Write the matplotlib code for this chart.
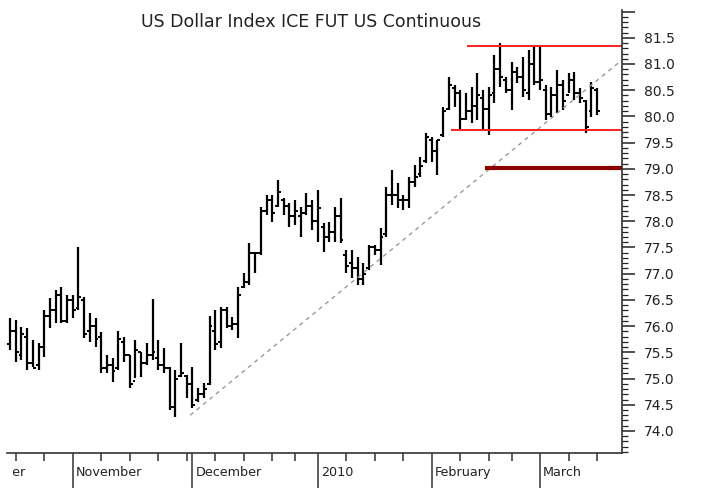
import numpy as np
import matplotlib
matplotlib.use("Agg")
import matplotlib.pyplot as plt
from matplotlib.transforms import Bbox, TransformedBbox, blended_transform_factory

# ---------------- data ----------------
high = [76.16, 76.12, 75.98, 75.97, 75.74, 75.68, 76.31, 76.54, 76.69, 76.75,
        76.60, 76.60, 77.51, 76.56, 76.25, 76.16, 75.89, 75.45, 75.39, 75.91,
        75.79, 75.45, 75.74, 75.51, 75.68, 76.52, 75.74, 75.58, 75.22, 75.16,
        75.68, 75.07, 75.22, 74.82, 74.92, 76.20, 76.31, 76.37, 76.37, 76.18,
        76.75, 77.02, 77.59, 77.42, 78.27, 78.50, 78.50, 78.79, 78.45, 78.35,
        78.41, 78.27, 78.54, 78.41, 78.60, 77.97, 77.99, 78.27, 78.45, 77.45,
        77.45, 77.32, 77.21, 77.55, 77.55, 77.87, 78.66, 78.98, 78.73, 78.50,
        78.85, 79.08, 79.23, 79.69, 79.60, 79.55, 80.18, 80.76, 80.60, 80.51,
        80.45, 80.56, 80.83, 80.51, 80.56, 81.18, 81.40, 80.76, 81.04, 80.95,
        81.14, 81.27, 81.33, 81.33, 80.60, 80.56, 80.89, 80.70, 80.83, 80.85,
        80.55, 80.32, 80.66, 80.55]
low = [75.55, 75.32, 75.36, 75.16, 75.22, 75.16, 75.41, 75.97, 76.06, 76.06,
       76.06, 76.16, 76.31, 75.77, 75.70, 75.60, 75.10, 75.10, 74.94, 75.16,
       75.32, 74.82, 75.01, 75.03, 75.26, 75.35, 75.16, 75.10, 74.40, 74.27,
       75.03, 74.63, 74.44, 74.55, 74.63, 74.88, 75.55, 75.58, 75.97, 75.93,
       75.77, 76.73, 76.79, 77.02, 77.36, 78.12, 77.99, 78.27, 78.12, 77.89,
       77.93, 77.70, 78.12, 77.84, 77.61, 77.42, 77.61, 77.61, 77.59, 77.02,
       76.92, 76.79, 76.79, 77.07, 77.36, 77.17, 77.70, 78.31, 78.26, 78.22,
       78.26, 78.66, 78.85, 79.11, 79.13, 78.89, 79.61, 80.13, 80.18, 79.74,
       79.94, 79.88, 79.94, 79.74, 79.65, 80.26, 80.56, 80.45, 80.13, 80.64,
       80.37, 80.32, 80.60, 80.51, 79.94, 79.99, 80.07, 80.13, 80.45, 80.32,
       80.26, 79.69, 79.99, 80.03]
open_ = [75.65, 75.90, 75.45, 75.80, 75.30, 75.25, 75.60, 76.20, 76.30, 76.60,
         76.10, 76.50, 76.35, 76.50, 75.90, 76.00, 75.80, 75.20, 75.25, 75.20,
         75.70, 75.45, 74.95, 75.50, 75.30, 75.45, 75.40, 75.25, 75.20, 74.45,
         75.05, 75.05, 74.90, 74.60, 74.70, 74.90, 75.90, 75.70, 76.30, 76.00,
         76.05, 76.75, 76.85, 77.40, 77.40, 78.20, 78.40, 78.30, 78.40, 78.30,
         78.10, 78.10, 78.15, 78.30, 78.00, 77.90, 77.70, 77.80, 78.10, 77.35,
         77.20, 77.10, 76.90, 77.10, 77.50, 77.45, 77.75, 78.50, 78.50, 78.40,
         78.40, 78.75, 78.90, 79.15, 79.55, 79.35, 79.65, 80.15, 80.55, 80.45,
         79.95, 80.10, 80.20, 80.35, 80.15, 80.45, 80.90, 80.70, 80.50, 80.85,
         80.75, 80.45, 81.00, 80.65, 80.50, 80.05, 80.40, 80.60, 80.40, 80.70,
         80.45, 80.30, 80.10, 80.50]
close = [75.90, 75.50, 75.85, 75.30, 75.20, 75.60, 76.20, 76.30, 76.60, 76.10,
         76.50, 76.30, 76.55, 75.85, 76.00, 75.75, 75.20, 75.25, 75.15, 75.75,
         75.45, 74.90, 75.55, 75.30, 75.45, 75.50, 75.25, 75.20, 74.45, 75.00,
         75.10, 74.90, 74.50, 74.70, 74.80, 76.00, 75.65, 76.30, 76.00, 76.05,
         76.60, 76.85, 77.40, 77.40, 78.20, 78.40, 78.15, 78.55, 78.30, 78.10,
         78.20, 78.15, 78.30, 78.00, 78.25, 77.70, 77.80, 78.10, 77.65, 77.15,
         77.10, 76.90, 77.00, 77.50, 77.45, 77.70, 78.50, 78.50, 78.40, 78.40,
         78.75, 78.85, 79.05, 79.60, 79.35, 79.55, 80.10, 80.60, 80.45, 79.95,
         80.10, 80.20, 80.40, 80.15, 80.40, 80.90, 80.75, 80.50, 80.85, 80.75,
         80.50, 81.00, 80.65, 80.70, 80.05, 80.40, 80.60, 80.30, 80.70, 80.45,
         80.35, 79.80, 80.55, 80.10]

# trading-day indices of calendar marks
month_starts = [11, 32, 54, 74, 93]
month_labels = ["November", "December", "2010", "February", "March"]
prev_month_label = "October"
week_starts = [1, 6, 16, 21, 26, 31, 36, 41, 46, 50, 59, 64, 69, 79, 84, 88, 98, 103]

# drawn analysis lines
trend_x = [31.6, 107.4]
trend_y = [74.30, 81.08]
resist_x = [80.2, 107.4]
resist_y = 81.34
support_x = [77.4, 107.4]
support_y = 79.74
target_x = [83.3, 107.4]
target_y = 79.02

title = "US Dollar Index ICE FUT US Continuous"

# ---------------- figure ----------------
W, H = 707, 490
fig = plt.figure(figsize=(W / 100, H / 100), dpi=100)
ax_l, ax_r, ax_t, ax_b = 7, 622, 10, 453
ax = fig.add_axes([ax_l / W, 1 - ax_b / H, (ax_r - ax_l) / W, (ax_b - ax_t) / H])

font = "DejaVu Sans"
x = np.arange(len(high))
ax.vlines(x, low, high, color="black", lw=1.6)
ax.hlines(open_, x - 0.5, x, color="black", lw=1.4)
ax.hlines(close, x, x + 0.5, color="black", lw=1.4)

ax.plot(trend_x, trend_y, color="#9a9a9a", lw=1.0, ls=(0, (3, 3)))
ax.plot(resist_x, [resist_y] * 2, color="#ff2020", lw=1.4, solid_capstyle="butt")
ax.plot(support_x, [support_y] * 2, color="#ff2020", lw=1.4, solid_capstyle="butt")
ax.plot(target_x, [target_y] * 2, color="#8b0000", lw=3.0, solid_capstyle="butt")

ax.set_xlim(-0.53, 107.37)
ax.set_ylim(73.58, 82.03)

for s in ["top", "left"]:
    ax.spines[s].set_visible(False)
for s in ["bottom", "right"]:
    ax.spines[s].set_color("#333333")
    ax.spines[s].set_linewidth(1.2)

# y axis on right
ax.yaxis.tick_right()
yt = np.round(np.arange(74.0, 82.01, 0.5), 1)
ax.set_yticks(yt)
ax.set_yticklabels([f"{v:.1f}" if v <= 81.5 else "" for v in yt], fontsize=10, family=font, color="#222222")
ax.set_yticks(np.round(np.arange(73.6, 82.03, 0.1), 1), minor=True)
ax.tick_params(axis="y", which="major", direction="out", length=9, width=1.1, pad=7, colors="#222222")
ax.tick_params(axis="y", which="minor", direction="out", length=4, width=0.9, colors="#222222")

# x axis: month ticks tall, weekly ticks short
ax.set_xticks(month_starts)
ax.set_xticklabels([])
ax.set_xticks(week_starts, minor=True)
ax.tick_params(axis="x", which="major", direction="out", length=25, width=1.1, colors="#333333")
ax.tick_params(axis="x", which="minor", direction="out", length=6, width=1.1, colors="#333333")

tr = blended_transform_factory(ax.transData, ax.transAxes)
for m, lab in zip(month_starts, month_labels):
    ax.text(m + 0.5, -0.043, lab, transform=tr, ha="left", va="center",
            fontsize=9.2, family=font, color="#222222", clip_on=False)
t = ax.text(2.75, -0.043, prev_month_label, transform=tr, ha="right", va="center",
            fontsize=9.2, family=font, color="#222222")
t.set_clip_on(True)
t.set_clip_box(TransformedBbox(Bbox([[12.5 / W, 0], [1, 1]]), fig.transFigure))

fig.text(311 / W, 1 - 22 / H, title, ha="center", va="center", fontsize=12.5,
         family=font, color="#222222")

fig.savefig("out.png", dpi=100, facecolor="white")
